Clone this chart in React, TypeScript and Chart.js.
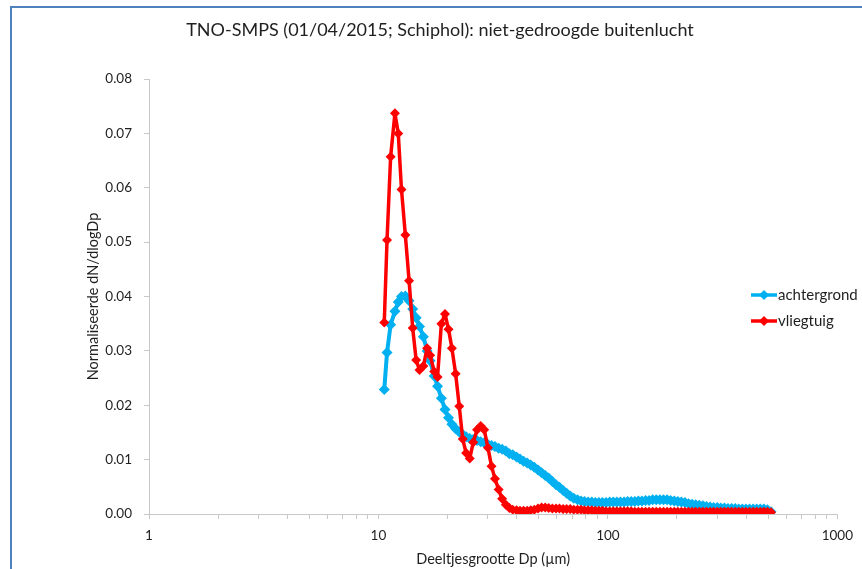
import React, { useEffect, useRef } from 'react';
import { Chart, registerables } from 'chart.js';

Chart.register(...registerables);

const chartTitle = 'TNO-SMPS (01/04/2015; Schiphol): niet-gedroogde buitenlucht';
const xAxisTitle = 'Deeltjesgrootte Dp (µm)';
const yAxisTitle = 'Normaliseerde dN/dlogDp';
const seriesNames = ['achtergrond', 'vliegtuig'];

const diameters = [
  10.6, 10.9, 11.3, 11.8, 12.2, 12.6, 13.1, 13.6, 14.1, 14.6,
  15.1, 15.7, 16.3, 16.8, 17.5, 18.1, 18.8, 19.5, 20.2, 20.9,
  21.7, 22.5, 23.3, 24.1, 25.0, 25.9, 26.9, 27.9, 28.9, 30.0,
  31.1, 32.2, 33.4, 34.6, 35.9, 37.2, 38.5, 40.0, 41.4, 42.9,
  44.5, 46.1, 47.8, 49.6, 51.4, 53.3, 55.2, 57.3, 59.4, 61.5,
  63.8, 66.1, 68.5, 71.0, 73.7, 76.4, 79.1, 82.0, 85.1, 88.2,
  91.4, 94.7, 98.2, 101.8, 105.5, 109.4, 113.4, 117.6, 121.9, 126.3,
  131.0, 135.8, 140.7, 145.9, 151.2, 156.8, 162.5, 168.5, 174.7, 181.1,
  187.7, 194.6, 201.7, 209.1, 216.7, 224.7, 232.9, 241.4, 250.3, 259.5,
  269.0, 278.8, 289.0, 299.6, 310.6, 322.0, 333.8, 346.0, 358.7, 371.8,
  385.4, 399.5, 414.2, 429.4, 445.1, 461.4, 478.3, 495.8, 514.0,
];

const achtergrond = [
  0.0229, 0.0297, 0.0348, 0.0373, 0.0390, 0.0400, 0.0401, 0.0392, 0.0377, 0.0361,
  0.0345, 0.0326, 0.0300, 0.0282, 0.0254, 0.0235, 0.0213, 0.0192, 0.0177, 0.0165,
  0.0157, 0.0151, 0.0146, 0.0142, 0.0139, 0.0137, 0.0135, 0.0133, 0.0131, 0.0128,
  0.0126, 0.0124, 0.0121, 0.0119, 0.0116, 0.0111, 0.0109, 0.0105, 0.0101, 0.0097,
  0.0094, 0.0090, 0.0086, 0.0081, 0.0076, 0.0071, 0.0066, 0.0060, 0.0054, 0.0049,
  0.0043, 0.0038, 0.0033, 0.0029, 0.0026, 0.0024, 0.0023, 0.0022, 0.0022, 0.0021,
  0.0021, 0.0021, 0.0021, 0.0022, 0.0022, 0.0022, 0.0022, 0.0022, 0.0023, 0.0023,
  0.0023, 0.0024, 0.0024, 0.0025, 0.0025, 0.0026, 0.0026, 0.0026, 0.0026, 0.0026,
  0.0025, 0.0024, 0.0023, 0.0022, 0.0021, 0.0019, 0.0018, 0.0017, 0.0016, 0.0015,
  0.0014, 0.0013, 0.0012, 0.0012, 0.0011, 0.0011, 0.0010, 0.0010, 0.0010, 0.0009,
  0.0009, 0.0009, 0.0009, 0.0009, 0.0009, 0.0009, 0.0009, 0.0008, 0.0004,
];

const vliegtuig = [
  0.0352, 0.0504, 0.0657, 0.0737, 0.0700, 0.0597, 0.0513, 0.0429, 0.0342, 0.0283,
  0.0265, 0.0272, 0.0305, 0.0292, 0.0262, 0.0252, 0.0350, 0.0368, 0.0340, 0.0305,
  0.0258, 0.0198, 0.0138, 0.0112, 0.0102, 0.0132, 0.0155, 0.0162, 0.0155, 0.0122,
  0.0088, 0.0065, 0.0045, 0.0028, 0.0017, 0.0011, 0.0008, 0.0007, 0.0006, 0.0006,
  0.0006, 0.0007, 0.0008, 0.0010, 0.0012, 0.0012, 0.0011, 0.0010, 0.0010, 0.0010,
  0.0009, 0.0009, 0.0009, 0.0008, 0.0008, 0.0008, 0.0007, 0.0007, 0.0007, 0.0006,
  0.0006, 0.0006, 0.0005, 0.0005, 0.0005, 0.0005, 0.0005, 0.0005, 0.0005, 0.0005,
  0.0004, 0.0004, 0.0004, 0.0004, 0.0004, 0.0004, 0.0004, 0.0004, 0.0004, 0.0004,
  0.0004, 0.0004, 0.0004, 0.0004, 0.0004, 0.0004, 0.0004, 0.0004, 0.0004, 0.0004,
  0.0004, 0.0004, 0.0004, 0.0004, 0.0004, 0.0004, 0.0004, 0.0004, 0.0004, 0.0004,
  0.0004, 0.0004, 0.0004, 0.0004, 0.0004, 0.0004, 0.0004, 0.0004, 0.0003,
];

const xTickValues = [
  1, 2, 3, 4, 5, 6, 7, 8, 9,
  10, 20, 30, 40, 50, 60, 70, 80, 90,
  100, 200, 300, 400, 500, 600, 700, 800, 900,
  1000,
];
const xTickLabels = [1, 10, 100, 1000];
const yTickValues = [0, 0.01, 0.02, 0.03, 0.04, 0.05, 0.06, 0.07, 0.08];

const FONT = 'Lato, "Open Sans", sans-serif';
const AXIS_COLOR = '#c8c8c8';
const TEXT_COLOR = '#1f1f1f';
const BLUE = '#00b0f0';
const RED = '#ff0000';

const sideLegend = {
  id: 'sideLegend',
  afterDraw(chart: any) {
    const ctx = chart.ctx as CanvasRenderingContext2D;
    const items = [
      { label: seriesNames[0], color: BLUE, y: 295 },
      { label: seriesNames[1], color: RED, y: 321 },
    ];
    ctx.save();
    items.forEach((it) => {
      ctx.strokeStyle = it.color;
      ctx.lineWidth = 3.5;
      ctx.beginPath();
      ctx.moveTo(751, it.y);
      ctx.lineTo(777, it.y);
      ctx.stroke();
      ctx.fillStyle = it.color;
      ctx.beginPath();
      ctx.moveTo(764, it.y - 5);
      ctx.lineTo(769, it.y);
      ctx.lineTo(764, it.y + 5);
      ctx.lineTo(759, it.y);
      ctx.closePath();
      ctx.fill();
      ctx.fillStyle = TEXT_COLOR;
      ctx.font = `15px ${FONT}`;
      ctx.textBaseline = 'middle';
      ctx.textAlign = 'left';
      ctx.fillText(it.label, 778, it.y);
    });
    ctx.restore();
  },
};

export default function App() {
  const ref = useRef<HTMLCanvasElement>(null);

  useEffect(() => {
    const toPoints = (vals: number[]) => vals.map((v, i) => ({ x: diameters[i], y: v }));
    const chart = new Chart(ref.current as HTMLCanvasElement, {
      type: 'line',
      data: {
        datasets: [
          {
            label: seriesNames[0],
            data: toPoints(achtergrond),
            borderColor: BLUE,
            backgroundColor: BLUE,
            borderWidth: 4,
            borderJoinStyle: 'round',
            pointStyle: 'rectRot',
            pointRadius: 5.5,
            pointBorderWidth: 0,
            pointBackgroundColor: BLUE,
            order: 1,
          },
          {
            label: seriesNames[1],
            data: toPoints(vliegtuig),
            borderColor: RED,
            backgroundColor: RED,
            borderWidth: 3.5,
            borderJoinStyle: 'round',
            pointStyle: 'rectRot',
            pointRadius: 5,
            pointBorderWidth: 0,
            pointBackgroundColor: RED,
            order: 0,
          },
        ],
      },
      options: {
        animation: false,
        responsive: false,
        maintainAspectRatio: false,
        devicePixelRatio: 1,
        layout: { padding: { left: 37, right: 19, top: 0, bottom: 0 } },
        plugins: {
          legend: { display: false },
          tooltip: { enabled: false },
          title: {
            display: true,
            text: chartTitle,
            color: TEXT_COLOR,
            font: { family: FONT, size: 18, weight: 'normal' },
            padding: { top: 19.2, bottom: 38.2 },
          },
        },
        scales: {
          x: {
            type: 'logarithmic',
            min: 1,
            max: 1000,
            afterBuildTicks: (scale: any) => {
              scale.ticks = xTickValues.map((v) => ({ value: v }));
            },
            afterFit: (scale: any) => {
              scale.height = 55;
            },
            ticks: {
              autoSkip: false,
              maxRotation: 0,
              minRotation: 0,
              padding: 9,
              color: TEXT_COLOR,
              font: { family: FONT, size: 13.5 },
              callback: (v: any) => (xTickLabels.includes(Number(v)) ? String(v) : ''),
            },
            grid: {
              drawOnChartArea: false,
              drawTicks: true,
              tickLength: 5,
              color: AXIS_COLOR,
            },
            border: { display: true, color: AXIS_COLOR, width: 1 },
            title: {
              display: true,
              text: xAxisTitle,
              color: TEXT_COLOR,
              font: { family: FONT, size: 14.5 },
              padding: { top: 0, bottom: 1.3 },
            },
          },
          y: {
            type: 'linear',
            min: 0,
            max: 0.08,
            afterBuildTicks: (scale: any) => {
              scale.ticks = yTickValues.map((v) => ({ value: v }));
            },
            afterFit: (scale: any) => {
              scale.width = 112;
            },
            ticks: {
              padding: 12,
              color: TEXT_COLOR,
              font: { family: FONT, size: 13.5 },
              callback: (v: any) => Number(v).toFixed(2),
            },
            grid: {
              drawOnChartArea: false,
              drawTicks: true,
              tickLength: 5,
              color: AXIS_COLOR,
            },
            border: { display: true, color: AXIS_COLOR, width: 1 },
            title: {
              display: true,
              text: yAxisTitle,
              color: TEXT_COLOR,
              font: { family: FONT, size: 14.5 },
              padding: { top: 47.3, bottom: 0 },
            },
          },
        },
      } as any,
      plugins: [sideLegend],
    });
    return () => chart.destroy();
  }, []);

  return (
    <div
      style={{
        position: 'absolute',
        left: 0,
        top: 0,
        width: 862,
        height: 569,
        overflow: 'hidden',
        background: '#ffffff',
      }}
    >
      <canvas
        ref={ref}
        width={862}
        height={569}
        style={{ position: 'absolute', left: 0, top: 0, width: 862, height: 569 }}
      />
      <div
        style={{
          position: 'absolute',
          left: 10,
          top: 6,
          width: 900,
          height: 600,
          borderLeft: '2px solid #4f81bd',
          borderTop: '2px solid #4f81bd',
          pointerEvents: 'none',
        }}
      />
    </div>
  );
}
